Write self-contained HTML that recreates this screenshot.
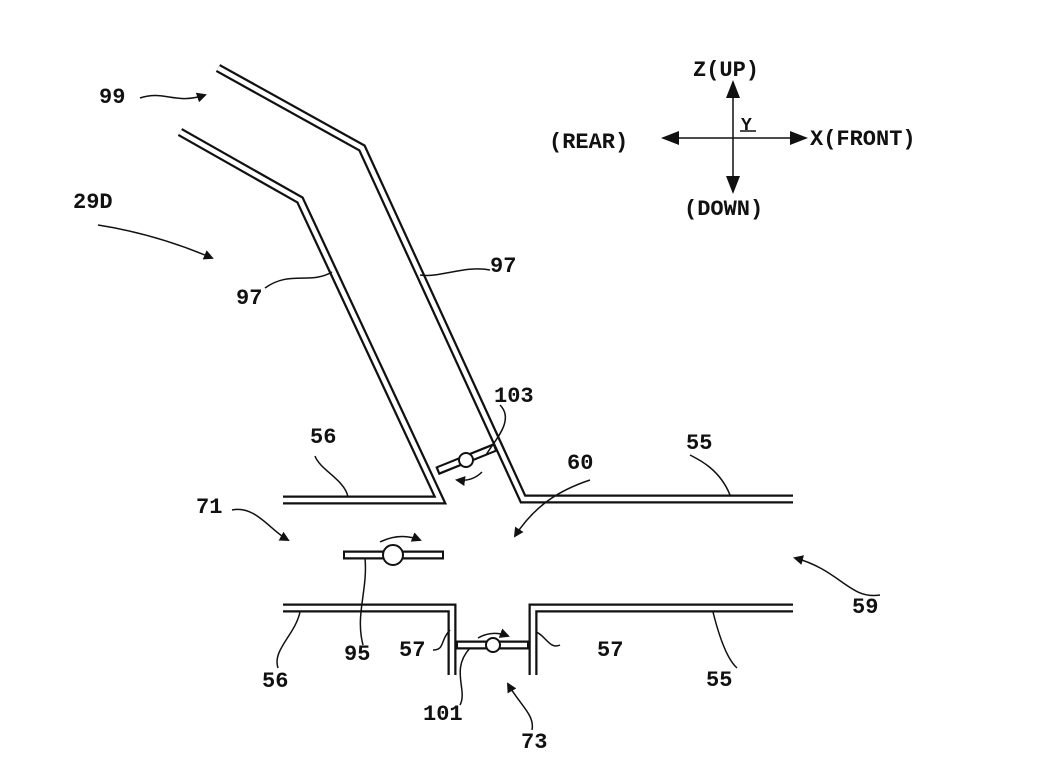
<!DOCTYPE html>
<html><head><style>
html,body{margin:0;padding:0;background:#fff;}
svg{display:block}
text{font-family:"Liberation Mono","DejaVu Sans Mono",monospace;font-weight:bold;font-size:22px;fill:#111}
</style></head><body>
<svg width="1041" height="780" viewBox="0 0 1041 780" xmlns="http://www.w3.org/2000/svg">
<defs>
<marker id="ah" markerWidth="10" markerHeight="10" refX="8" refY="5" orient="auto" markerUnits="userSpaceOnUse"><path d="M0,0 L10,5 L0,10 z" fill="#111"/></marker>
<marker id="big" markerWidth="18" markerHeight="14" refX="16" refY="7" orient="auto" markerUnits="userSpaceOnUse"><path d="M0,0 L18,7 L0,14 z" fill="#111"/></marker>
</defs>
<g fill="none" stroke-linejoin="miter">
<g stroke="#111" stroke-width="9">
<polyline points="218,68 362,148 523,499 793,499"/>
<polyline points="180,132 300,200 440,500 283,500"/>
<polyline points="283,608 452,608 452,675"/>
<polyline points="533,675 533,608 793,608"/>
<line x1="343" y1="555" x2="444" y2="555"/>
<line x1="456" y1="645" x2="529" y2="645"/>
<line x1="437" y1="471" x2="496" y2="447"/>
</g>
<g stroke="#fff" stroke-width="4.5">
<polyline points="218,68 362,148 523,499 793,499"/>
<polyline points="180,132 300,200 440,500 283,500"/>
<polyline points="283,608 452,608 452,675"/>
<polyline points="533,675 533,608 793,608"/>
<line x1="345" y1="555" x2="442" y2="555"/>
<line x1="458" y1="645" x2="527" y2="645"/>
<line x1="439" y1="470" x2="494" y2="448"/>
</g>
<g fill="#fff" stroke="#111" stroke-width="2">
<circle cx="393" cy="555" r="10"/>
<circle cx="493" cy="645" r="7"/>
<circle cx="466" cy="460" r="7"/>
</g>
<g stroke="#111" stroke-width="1.5">
<path d="M380,542 Q400,532 420,540" marker-end="url(#ah)"/>
<path d="M478,638 Q492,630 508,636" marker-end="url(#ah)"/>
<path d="M482,472 Q472,482 457,480" marker-end="url(#ah)"/>
<line x1="733" y1="138" x2="733" y2="82" marker-end="url(#big)"/>
<line x1="733" y1="138" x2="733" y2="192" marker-end="url(#big)"/>
<line x1="733" y1="138" x2="663" y2="138" marker-end="url(#big)"/>
<line x1="733" y1="138" x2="806" y2="138" marker-end="url(#big)"/>
<line x1="740" y1="131" x2="756" y2="131"/>
<path d="M140,98 C165,90 175,105 205,95" marker-end="url(#ah)"/>
<path d="M98,225 C130,230 170,240 212,258" marker-end="url(#ah)"/>
<path d="M265,288 C290,270 310,285 332,272"/>
<path d="M490,270 C465,265 440,278 420,275"/>
<path d="M315,456 C320,470 345,480 348,497"/>
<path d="M500,405 C515,420 495,440 486,455"/>
<path d="M690,455 C700,460 720,470 730,495"/>
<path d="M590,480 C560,490 535,505 515,536" marker-end="url(#ah)"/>
<path d="M232,510 C255,505 270,530 288,540" marker-end="url(#ah)"/>
<path d="M880,595 C850,600 840,570 795,558" marker-end="url(#ah)"/>
<path d="M365,558 C368,590 355,615 363,645"/>
<path d="M278,668 C272,650 295,635 300,612"/>
<path d="M433,650 C445,650 440,640 450,630"/>
<path d="M560,645 C550,650 545,635 536,632"/>
<path d="M737,668 C728,660 720,640 713,612"/>
<path d="M460,705 C468,690 450,670 470,648"/>
<path d="M532,730 C535,715 520,705 508,684" marker-end="url(#ah)"/>
</g>
</g>
<text x="99" y="103">99</text>
<text x="73" y="208">29D</text>
<text x="236" y="304">97</text>
<text x="490" y="272">97</text>
<text x="494" y="402">103</text>
<text x="310" y="443">56</text>
<text x="567" y="469">60</text>
<text x="686" y="449">55</text>
<text x="196" y="513">71</text>
<text x="852" y="613">59</text>
<text x="262" y="687">56</text>
<text x="344" y="660">95</text>
<text x="399" y="656">57</text>
<text x="597" y="656">57</text>
<text x="706" y="686">55</text>
<text x="423" y="720">101</text>
<text x="521" y="748">73</text>
<text x="693" y="76">Z(UP)</text>
<text x="741" y="130" style="font-size:18px">Y</text>
<text x="549" y="148">(REAR)</text>
<text x="810" y="145">X(FRONT)</text>
<text x="684" y="215">(DOWN)</text>
</svg>
</body></html>
